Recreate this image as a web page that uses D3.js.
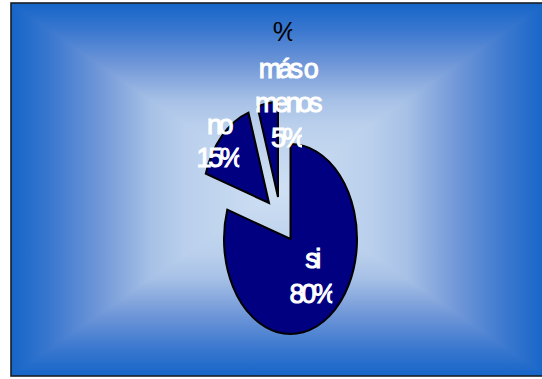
<!DOCTYPE html>
<html><head><meta charset="utf-8">
<style>html,body{margin:0;padding:0;background:#fff}svg{display:block}text{font-family:"Liberation Sans",Arial,sans-serif}</style>
<script src="https://cdn.jsdelivr.net/npm/d3@7"></script>
</head><body><div id="c"></div>
<script>
const categories = ["si", "no", "más o menos"];
const values = [80, 15, 5];
const percentLabels = ["80%", "15%", "5%"];
const title = "%";

const W = 542, H = 379;
const frame = {x0: 11, y0: 3, x1: 546, y1: 376};
const pieCenter = {x: 290.5, y: 239}, rx = 66.5, ry = 95;
const offsets = [[0, 0], [-21.5, -36], [-12.5, -42]];
const labelSpots = [
  {x: 311.5, lines: ["si", "80%"], y: [268, 303]},
  {x: 218.5, lines: ["no", "15%"], y: [134, 167]},
  {x: 287, lines: ["más o", "menos", "5%"], y: [78, 112, 146.5]}
];

const svg = d3.select("#c").append("svg").attr("width", W).attr("height", H);
const defs = svg.append("defs");

// rectangular "box" gradient built from four mitred panels
const cx = (frame.x0 + frame.x1) / 2, cy = (frame.y0 + frame.y1) / 2;
const stops = [[0, "#cfe0f3"], [0.35, "#b9cfec"], [0.48, "#a6c0e6"], [0.67, "#7097d8"], [0.85, "#3b78cf"], [1, "#1565c8"]];
const panels = [
  {id: "gt", pts: [[frame.x0, frame.y0], [frame.x1, frame.y0], [cx, cy]], g: [cx, cy, cx, frame.y0]},
  {id: "gb", pts: [[frame.x0, frame.y1], [frame.x1, frame.y1], [cx, cy]], g: [cx, cy, cx, frame.y1]},
  {id: "gl", pts: [[frame.x0, frame.y0], [frame.x0, frame.y1], [cx, cy]], g: [cx, cy, frame.x0, cy]},
  {id: "gr", pts: [[frame.x1, frame.y0], [frame.x1, frame.y1], [cx, cy]], g: [cx, cy, frame.x1, cy]}
];
panels.forEach(p => {
  const g = defs.append("linearGradient").attr("id", p.id).attr("gradientUnits", "userSpaceOnUse")
    .attr("x1", p.g[0]).attr("y1", p.g[1]).attr("x2", p.g[2]).attr("y2", p.g[3]);
  stops.forEach(s => g.append("stop").attr("offset", s[0]).attr("stop-color", s[1]));
  svg.append("polygon").attr("points", p.pts.map(d => d.join(",")).join(" ")).attr("fill", `url(#${p.id})`)
    .attr("shape-rendering", "crispEdges");
});
svg.append("rect").attr("x", frame.x0).attr("y", frame.y0).attr("width", frame.x1 - frame.x0).attr("height", frame.y1 - frame.y0)
  .attr("fill", "none").attr("stroke", "#1a1f24").attr("stroke-width", 1.6);

// pie
const pie = d3.pie().sort(null).startAngle(0).endAngle(2 * Math.PI);
const arc = d3.arc().innerRadius(0).outerRadius(1);
const arcs = pie(values);
svg.selectAll("path.slice").data(arcs).enter().append("path").attr("class", "slice")
  .attr("d", arc)
  .attr("transform", (d, i) => `translate(${pieCenter.x + offsets[i][0]},${pieCenter.y + offsets[i][1]}) scale(${rx},${ry})`)
  .attr("fill", "#000080").attr("stroke", "#000").attr("stroke-width", 2)
  .style("vector-effect", "non-scaling-stroke");

// labels, last glyph clipped as in the reference
let clipId = 0;
function addLine(txt, x, y, fill, bold) {
  const t = svg.append("text").attr("x", x).attr("y", y).attr("text-anchor", "middle")
    .attr("fill", fill).attr("font-size", 27).attr("letter-spacing", "-3.4px").text(txt);
  if (bold) t.attr("stroke", fill).attr("stroke-width", 1);
  if (txt.endsWith("%")) {
    const b = t.node().getBBox();
    const id = "clip" + (clipId++);
    defs.append("clipPath").attr("id", id).append("rect")
      .attr("x", b.x - 2).attr("y", b.y - 2).attr("width", b.width - 2.5).attr("height", b.height + 4);
    t.attr("clip-path", `url(#${id})`);
  }
}
addLine(title, 283, 41, "#000", false);
labelSpots.forEach(s => s.lines.forEach((l, j) => addLine(l, s.x, s.y[j], "#fff", true)));
</script></body></html>
